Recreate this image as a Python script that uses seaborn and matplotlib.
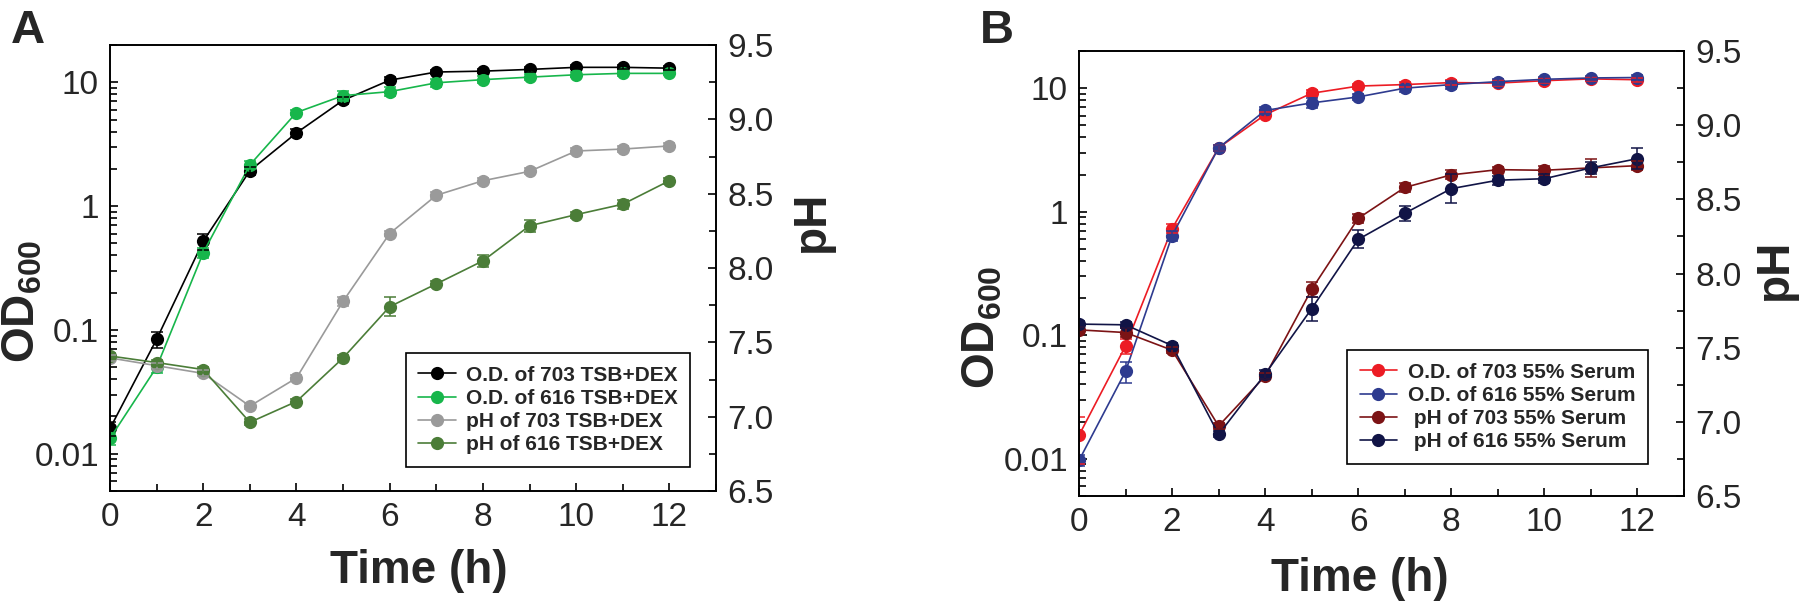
import numpy as np
import pandas as pd
import matplotlib
matplotlib.use("Agg")
import matplotlib.pyplot as plt
import matplotlib.ticker as mticker
from matplotlib.lines import Line2D
from matplotlib import font_manager
import seaborn as sns

# time points (h)
hours = list(range(13))

# panel A: TSB+DEX
od_703_tsb = [0.016, 0.084, 0.52, 1.93, 3.9, 7.15, 10.4, 12.1, 12.3, 12.7, 13.2, 13.2, 13.0]
od_703_tsb_err = [0.002, 0.012, 0.08, 0.15, 0.3, 0.5, 0.6, 0.5, 0.5, 0.5, 0.5, 0.5, 0.5]
od_616_tsb = [0.0133, 0.050, 0.42, 2.15, 5.7, 7.8, 8.4, 9.9, 10.5, 11.0, 11.5, 11.8, 11.8]
od_616_tsb_err = [0.0015, 0.005, 0.04, 0.15, 0.3, 0.7, 0.7, 0.7, 0.7, 0.6, 0.5, 0.5, 0.4]
ph_703_tsb = [7.395, 7.343, 7.291, 7.071, 7.26, 7.776, 8.232, 8.489, 8.587, 8.65, 8.787, 8.80, 8.821]
ph_703_tsb_err = [0.02, 0.02, 0.02, 0.02, 0.02, 0.03, 0.02, 0.02, 0.02, 0.02, 0.02, 0.02, 0.02]
ph_616_tsb = [7.408, 7.364, 7.317, 6.962, 7.102, 7.395, 7.74, 7.893, 8.048, 8.284, 8.359, 8.429, 8.587]
ph_616_tsb_err = [0.02, 0.02, 0.02, 0.02, 0.02, 0.02, 0.065, 0.02, 0.04, 0.04, 0.02, 0.03, 0.02]

# panel B: 55% serum
od_703_ser = [0.0155, 0.082, 0.73, 3.29, 6.1, 9.1, 10.4, 10.7, 11.1, 11.0, 11.5, 11.9, 11.7]
od_703_ser_err = [0.0065, 0.012, 0.06, 0.2, 0.3, 0.5, 0.5, 0.5, 0.5, 0.6, 0.5, 0.5, 0.5]
od_616_ser = [0.0097, 0.051, 0.64, 3.29, 6.6, 7.6, 8.5, 10.0, 10.7, 11.3, 11.8, 12.1, 12.2]
od_616_ser_err = [0.001, 0.01, 0.06, 0.2, 0.4, 0.7, 0.5, 0.6, 0.8, 0.6, 0.5, 0.5, 0.5]
ph_703_ser = [7.62, 7.602, 7.483, 6.972, 7.309, 7.893, 8.372, 8.58, 8.665, 8.70, 8.696, 8.712, 8.727]
ph_703_ser_err = [0.02, 0.03, 0.02, 0.02, 0.02, 0.05, 0.03, 0.03, 0.03, 0.02, 0.03, 0.06, 0.03]
ph_616_ser = [7.659, 7.654, 7.514, 6.915, 7.322, 7.763, 8.23, 8.406, 8.572, 8.629, 8.639, 8.712, 8.774]
ph_616_ser_err = [0.02, 0.02, 0.02, 0.02, 0.03, 0.08, 0.06, 0.05, 0.1, 0.03, 0.03, 0.04, 0.07]

od_ticks = [0.01, 0.1, 1, 10]
od_tick_labels = ["0.01", "0.1", "1", "10"]
ph_ticks = [6.5, 7.0, 7.5, 8.0, 8.5, 9.0, 9.5]

panels = [
    {
        "letter": "A",
        "od": [("O.D. of 703 TSB+DEX", od_703_tsb, od_703_tsb_err, "#000000"),
               ("O.D. of 616 TSB+DEX", od_616_tsb, od_616_tsb_err, "#17b64b")],
        "ph": [("pH of 703 TSB+DEX", ph_703_tsb, ph_703_tsb_err, "#9a9a9a"),
               ("pH of 616 TSB+DEX", ph_616_tsb, ph_616_tsb_err, "#4b7d38")],
        "rect": [110 / 1800, 1 - 491 / 604, 606 / 1800, 446 / 604],
        "leg_anchor": (0.975, 0.031),
        "od_label_xy": (-0.144, 0.426),
        "ph_label_xy": (1.158, 0.605),
        "time_label_xy": (0.51, -0.13),
    },
    {
        "letter": "B",
        "od": [("O.D. of 703 55% Serum", od_703_ser, od_703_ser_err, "#ec1c24"),
               ("O.D. of 616 55% Serum", od_616_ser, od_616_ser_err, "#2e3b8f")],
        "ph": [(" pH of 703 55% Serum", ph_703_ser, ph_703_ser_err, "#7c1315"),
               (" pH of 616 55% Serum", ph_616_ser, ph_616_ser_err, "#111446")],
        "rect": [1079 / 1800, 1 - 496 / 604, 605 / 1800, 445 / 604],
        "leg_anchor": (0.957, 0.049),
        "od_label_xy": (-0.16, 0.38),
        "ph_label_xy": (1.15, 0.51),
        "time_label_xy": (0.464, -0.137),
    },
]

sns.set_theme(style="ticks")
names = {f.name for f in font_manager.fontManager.ttflist}
narrow = "Liberation Sans Narrow" if "Liberation Sans Narrow" in names else "Liberation Sans"
plt.rcParams["font.family"] = [narrow, "DejaVu Sans"]
plt.rcParams["mathtext.fontset"] = "custom"
plt.rcParams["mathtext.rm"] = narrow
plt.rcParams["mathtext.bf"] = narrow + ":bold"

fig = plt.figure(figsize=(18, 6.04), dpi=100)


def draw_series(ax, series):
    rows = []
    for name, vals, err, color in series:
        for t, v in zip(hours, vals):
            rows.append({"time": t, "value": v, "series": name})
    df = pd.DataFrame(rows)
    palette = {name: color for name, _, _, color in series}
    sns.lineplot(data=df, x="time", y="value", hue="series", palette=palette,
                 hue_order=[s[0] for s in series], marker="o", markersize=9.5,
                 markeredgewidth=0, linewidth=1.2, legend=False, ax=ax)
    for name, vals, err, color in series:
        ax.errorbar(hours, vals, yerr=err, fmt="none", ecolor=color,
                    elinewidth=1.1, capsize=4.5, capthick=1.1)


for p in panels:
    ax = fig.add_axes(p["rect"])
    ax.set_yscale("log")
    draw_series(ax, p["od"])
    ax2 = ax.twinx()
    draw_series(ax2, p["ph"])

    ax.set_xlim(0, 13)
    ax.set_ylim(0.005, 20)
    ax2.set_ylim(6.5, 9.5)
    ax.set_xticks(range(0, 13, 2))
    ax.xaxis.set_minor_locator(mticker.MultipleLocator(1))
    ax.set_yticks(od_ticks)
    ax.set_yticklabels(od_tick_labels)
    ax.yaxis.set_minor_locator(mticker.LogLocator(base=10, subs=np.arange(2, 10)))
    ax.yaxis.set_minor_formatter(mticker.NullFormatter())
    ax2.set_yticks(ph_ticks)
    ax2.set_yticklabels([f"{v:.1f}" for v in ph_ticks])
    ax2.yaxis.set_minor_locator(mticker.MultipleLocator(0.25))

    for a in (ax, ax2):
        a.tick_params(which="major", direction="in", length=6, width=1.2,
                      labelsize=24, pad=8, color="black")
        a.tick_params(which="minor", direction="in", length=5, width=1.2, color="black")
        for s in a.spines.values():
            s.set_linewidth(1.2)
            s.set_color("black")

    ax.set_xlabel("Time (h)", fontsize=33, fontweight="bold")
    ax.xaxis.set_label_coords(*p["time_label_xy"])
    ax.set_ylabel(r"$\mathbf{OD}_{\mathbf{600}}$", fontsize=33)
    ax.yaxis.set_label_coords(*p["od_label_xy"])
    ax.yaxis.label.set_verticalalignment("center")
    ax2.set_ylabel("pH", fontsize=33, fontweight="bold", rotation=90)
    ax2.yaxis.set_label_coords(*p["ph_label_xy"])
    ax2.yaxis.label.set_verticalalignment("center")

    handles = [Line2D([], [], color=c, marker="o", markersize=9.5, markeredgewidth=0,
                      linewidth=1.2, label=n) for n, _, _, c in p["od"] + p["ph"]]
    leg = ax2.legend(handles=handles, loc="lower right", bbox_to_anchor=p["leg_anchor"],
                     frameon=True, fancybox=False, edgecolor="black", framealpha=1,
                     prop={"size": 15, "weight": "bold"}, handlelength=1.8,
                     handletextpad=0.5, labelspacing=0.2, borderpad=0.6)
    leg.get_frame().set_linewidth(1.2)

    fig.text(p["rect"][0] - 0.055, 0.985, p["letter"], fontsize=34, fontweight="bold",
             ha="left", va="top")

fig.savefig("out.png", dpi=100)
